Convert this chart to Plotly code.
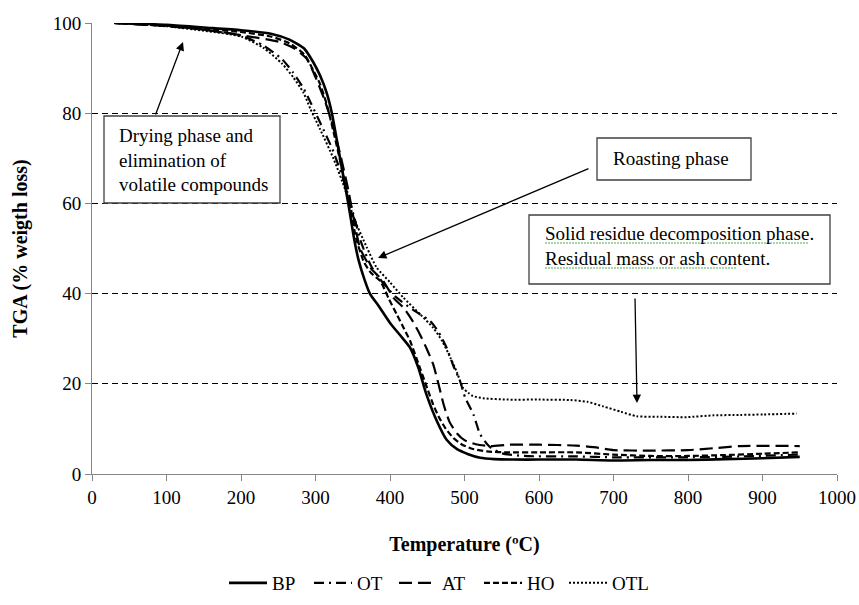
import plotly.graph_objects as go

# ---------------- data ----------------
bp_temp = [30, 100, 150, 200, 240, 265, 285, 297, 306, 315, 322, 333, 344, 352, 358, 366, 373, 385, 400,
           415, 427, 438, 449, 463, 476, 490, 505, 521, 540, 565, 600, 650, 700, 750, 800, 850, 900, 950]
bp_tga = [100, 99.6, 99.0, 98.4, 97.6, 96.3, 94.3, 91.3, 88.4, 84.5, 80, 70, 60, 52, 47.3, 43, 40, 37.2, 33.5,
          30.5, 28, 23.6, 17.6, 11.7, 7.6, 5.5, 4.4, 3.6, 3.3, 3.2, 3.2, 3.2, 3.0, 3.1, 3.1, 3.3, 3.5, 3.8]

ot_temp = [30, 100, 150, 200, 230, 255, 270, 284, 293, 306, 324, 340, 351, 362, 375, 390, 409, 430, 454,
           465, 476, 485, 494, 501, 512, 521, 534, 550, 580, 650, 700, 800, 870, 950]
ot_tga = [100, 99.4, 98.5, 97.2, 95, 92, 89, 85.5, 82.5, 78, 71.5, 64, 57.5, 51, 46, 42.5, 39.1, 36.5, 33.9,
          31.5, 28, 24, 20.6, 16.9, 13.2, 8.8, 6.0, 4.6, 4.0, 3.9, 3.7, 3.7, 3.9, 4.3]

at_temp = [30, 100, 150, 200, 252, 270, 288, 301, 312, 322, 333, 344, 352, 360, 375, 391, 405, 418, 430,
           440, 450, 458, 465, 472, 480, 490, 500, 515, 534, 560, 600, 650, 680, 700, 750, 800, 840, 870, 950]
at_tga = [100, 99.3, 98.5, 97.3, 95.8, 94.5, 92.1, 87.6, 83, 78, 71, 63, 56, 50, 45.5, 42.8, 39, 36.9, 34,
          31, 27.5, 24.3, 20, 15.4, 11.5, 9, 7.5, 6.6, 6.2, 6.5, 6.5, 6.3, 5.8, 5.3, 5.2, 5.3, 5.8, 6.2, 6.2]

ho_temp = [30, 100, 150, 200, 240, 265, 285, 297, 306, 315, 324, 335, 345, 355, 365, 375, 387, 398, 409,
           418, 427, 440, 450, 458, 466, 475, 485, 497, 510, 530, 560, 600, 650, 700, 750, 800, 850, 900, 950]
ho_tga = [100, 99.4, 98.7, 98.0, 97.0, 95.5, 93, 89.5, 86.5, 82, 76, 68, 60, 52, 47, 44.5, 42.8, 39, 35.4,
          32.5, 29.5, 23.6, 19, 15.4, 12.5, 10, 8, 6.5, 5.6, 5.0, 4.8, 4.8, 4.8, 4.3, 4.0, 4.0, 4.2, 4.5, 4.8]

otl_temp = [30, 100, 150, 200, 230, 255, 270, 284, 293, 306, 324, 340, 351, 369, 382, 400, 418, 440, 458,
            470, 481, 490, 498, 505, 511, 525, 557, 600, 642, 665, 686, 710, 731, 760, 798, 834, 870, 901, 946]
otl_tga = [100, 99.3, 98.3, 97, 94.5, 91, 88, 84.5, 81, 76.5, 70, 63, 57, 50.2, 45.8, 42.5, 39.1, 35.5, 32.4,
           29.5, 25.8, 22.5, 19.1, 18, 17.3, 16.8, 16.5, 16.5, 16.4, 16, 15, 13.8, 12.8, 12.7, 12.6, 13, 13.1, 13.2, 13.4]

series_names = ["BP", "OT", "AT", "HO", "OTL"]
x_ticks = [0, 100, 200, 300, 400, 500, 600, 700, 800, 900, 1000]
y_ticks = [0, 20, 40, 60, 80, 100]

# ---------------- figure ----------------
W, H = 859, 605
L, R, T, B = 92, 22, 23, 131
PW, PH = W - L - R, H - T - B

def px(x):  # pixel -> paper x
    return (x - L) / PW

def py(y):  # pixel -> paper y
    return (H - B - y) / PH

FONT = "Liberation Serif"

styles = [
    dict(dash="solid", width=2.6),
    dict(dash="10px,5px,2px,5px", width=2.2),
    dict(dash="13px,6px", width=2.2),
    dict(dash="6px,3px", width=2.2),
    dict(dash="2px,2px", width=2.0),
]
data = [(bp_temp, bp_tga), (ot_temp, ot_tga), (at_temp, at_tga), (ho_temp, ho_tga), (otl_temp, otl_tga)]

fig = go.Figure()
for name, (xs, ys), st in zip(series_names, data, styles):
    fig.add_trace(go.Scatter(x=xs, y=ys, mode="lines", name=name,
                             line=dict(color="black", width=st["width"], dash=st["dash"], shape="spline", smoothing=0.6)))

fig.update_layout(
    width=W, height=H,
    margin=dict(l=L, r=R, t=T, b=B, autoexpand=False),
    paper_bgcolor="white", plot_bgcolor="white",
    font=dict(family=FONT, size=19, color="black"),
    showlegend=True,
    legend=dict(orientation="h", x=px(224), xanchor="left", y=py(564), yanchor="top",
                itemwidth=38, entrywidth=32, entrywidthmode="pixels",
                font=dict(family=FONT, size=19, color="black"), bgcolor="rgba(0,0,0,0)"),
    xaxis=dict(range=[0, 1000], tickvals=x_ticks, showgrid=False, zeroline=False, automargin=False,
               showline=True, linecolor="#868686", linewidth=1,
               ticks="outside", ticklen=6, tickcolor="#868686",
               tickfont=dict(family=FONT, size=19, color="black"),
               title=dict(text="<b>Temperature (ºC)</b>", font=dict(family=FONT, size=20, color="black"), standoff=30)),
    yaxis=dict(range=[0, 100], tickvals=y_ticks, showgrid=True, gridcolor="black", gridwidth=1,
               griddash="6px,4px", zeroline=False, automargin=False,
               showline=True, linecolor="#868686", linewidth=1,
               ticks="outside", ticklen=6, tickcolor="#868686",
               tickfont=dict(family=FONT, size=19, color="black"),
               title=dict(text="<b>TGA (% weigth loss)</b>", font=dict(family=FONT, size=20, color="black"), standoff=19)),
)

# annotation boxes
boxes = [(104, 116, 280, 203), (597, 138, 751, 180), (529, 215, 830, 284)]
for x0, y0, x1, y1 in boxes:
    fig.add_shape(type="rect", xref="paper", yref="paper", x0=px(x0), x1=px(x1), y0=py(y1), y1=py(y0),
                  line=dict(color="#404040", width=1.3), fillcolor="white", layer="above")

texts = [
    ("Drying phase and<br>elimination of<br>volatile compounds", 117, 160),
    ("Roasting phase", 611, 158),
    ("Solid residue decomposition phase.<br>Residual mass or ash content.", 543, 246),
]
for txt, x, y in texts:
    fig.add_annotation(text=txt, xref="paper", yref="paper", x=px(x), y=py(y), xanchor="left", yanchor="middle",
                       align="left", showarrow=False, font=dict(family=FONT, size=19, color="black"))

# spell-check style underline
for x0, x1, y in [(545, 808, 243), (545, 737, 268)]:
    fig.add_shape(type="line", xref="paper", yref="paper", x0=px(x0), x1=px(x1), y0=py(y), y1=py(y),
                  line=dict(color="#4caf50", width=1.2, dash="2px,1px"), layer="above")

# arrows (head, tail) in pixels
arrows = [((183, 42), (155, 116)), ((378, 258), (590, 168)), ((637, 403), (635, 297))]
for (hx, hy), (tx, ty) in arrows:
    fig.add_annotation(text="", xref="paper", yref="paper", x=px(hx), y=py(hy), ax=tx - hx, ay=ty - hy,
                       axref="pixel", ayref="pixel", showarrow=True, arrowhead=2, arrowsize=1.3,
                       arrowwidth=1.3, arrowcolor="black")

fig.write_html("out.html")
